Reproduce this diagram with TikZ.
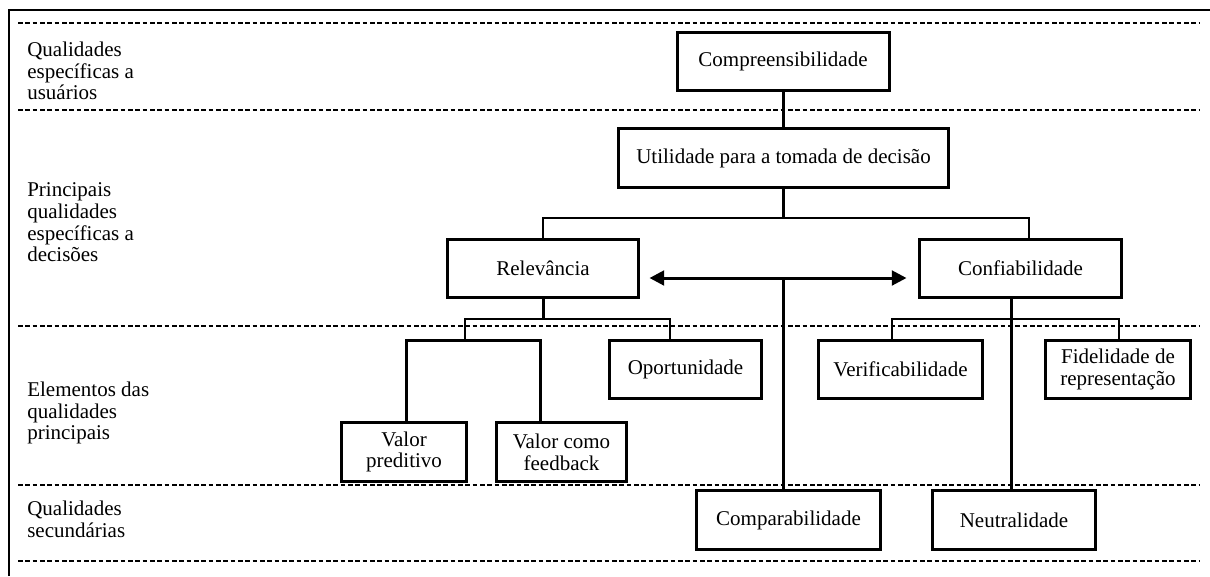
\documentclass[tikz,border=0pt]{standalone}
\usepackage{fontspec}
\setmainfont{Liberation Serif}
\usetikzlibrary{arrows.meta,calc}

\begin{document}
\begin{tikzpicture}[x=0.75pt,y=-0.75pt,
  txt/.style={font=\fontsize{15.75pt}{16.3pt}\selectfont},
  box/.style={txt, draw, line width=2.25pt, align=center, inner sep=0pt,
    minimum height=44pt},
  lbl/.style={txt, anchor=north west, align=left, inner sep=0pt},
  trunk/.style={line width=2.25pt},
  twig/.style={line width=1.5pt},
  band/.style={line width=1.5pt, dash pattern=on 3.6pt off 1.9pt},
  frameline/.style={line width=1.8pt},
  both/.style={line width=2.25pt, {Triangle[length=11pt,width=11pt]}-{Triangle[length=11pt,width=11pt]}}]

\useasboundingbox (0,0) rectangle (1210,576);

% outer frame (top and left edges)
\draw[frameline] (9,576) -- (9,10) -- (1210,10);

% band separators
\foreach \yy in {23,110,326,485,561}
  \draw[band] (18,\yy) -- (1200,\yy);

% band captions
\node[lbl] (l1) at (27,41.5) {Qualidades\\específicas a\\usuários};
\node[lbl] (l2) at (27,182.5) {Principais\\qualidades\\específicas a\\decisões};
\node[lbl] (l3) at (27,381.5) {Elementos das\\qualidades\\principais};
\node[lbl] (l4) at (27,501) {Qualidades\\secundárias};

% boxes
\node[box, minimum width=159pt]    (comp)   at (783,61.5)    {Compreensibilidade};
\node[box, minimum width=247.5pt]  (util)   at (783.5,158)   {Utilidade para a tomada de decisão};
\node[box, minimum width=143.25pt] (relev)  at (543,268.5)   {Relevância};
\node[box, minimum width=151.5pt]  (conf)   at (1020.5,268.5){Confiabilidade};
\node[box, minimum width=114pt]    (oport)  at (685.5,369.5) {Oportunidade};
\node[box, minimum width=123pt]    (verif)  at (900.5,369.5) {Verificabilidade};
\node[box, minimum width=108.75pt] (fidel)  at (1118,369.5)  {Fidelidade de\\representação};
\node[box, minimum width=93.75pt]  (vpred)  at (404,452)     {Valor\\preditivo};
\node[box, minimum width=97.5pt]   (vfeed)  at (561.5,452)   {Valor como\\feedback};
\node[box, minimum width=138pt]    (compar) at (788.5,520)   {Comparabilidade};
\node[box, minimum width=122.25pt] (neutr)  at (1014,520)    {Neutralidade};

% junction points
\coordinate (j1) at (783,218);
\coordinate (j2) at (543,319);
\coordinate (j3) at (1011,319);
\coordinate (bT) at (465,340);
\coordinate (bL) at (406,340);
\coordinate (bR) at (540,340);
\coordinate (am) at (783,278);

% upper trunk
\draw[trunk] (comp.south) -- (comp.south |- util.north);
\draw[trunk] (util.south -| j1) -- (j1);
\draw[twig] (relev.north) |- (j1) -| ($(conf.north)+(8.5,0)$);

% relevance branch
\draw[trunk] (relev.south) -- (j2);
\draw[twig] (bT) |- (j2) -| ($(oport.north)+(-15.5,0)$);
\draw[trunk] (vpred.north -| bL) |- (bR) -- (bR |- vfeed.north);

% reliability branch
\draw[trunk] (conf.south -| j3) -- (j3 |- neutr.north);
\draw[twig] ($(verif.north)+(-8.5,0)$) |- (j3) -| ($(fidel.north)+(1,0)$);

% trade-off arrow and comparability link
\draw[both] ($(relev.east)+(9.5,9.5)$) -- ($(conf.west)+(-11.5,9.5)$);
\draw[trunk] (am) -- (am |- compar.north);

\end{tikzpicture}
\end{document}
